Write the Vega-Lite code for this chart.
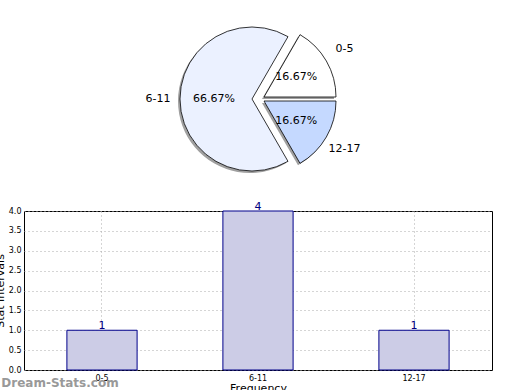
{
  "$schema": "https://vega.github.io/schema/vega-lite/v6.json",
  "padding": {"left": -7, "top": 0, "right": 0, "bottom": 0},
  "config": {
    "font": "DejaVu Sans",
    "view": {"stroke": null},
    "concat": {"spacing": 2}
  },
  "data": {
    "values": [
      {"range": "0-5", "count": 1, "pct": "16.67%"},
      {"range": "6-11", "count": 4, "pct": "66.67%"},
      {"range": "12-17", "count": 1, "pct": "16.67%"}
    ]
  },
  "vconcat": [
    {
      "width": 468,
      "height": 198,
      "transform": [
        {"stack": "count", "groupby": [], "sort": [{"field": "range", "order": "ascending"}], "as": ["start", "end"]}
      ],
      "encoding": {
        "theta": {"field": "start", "type": "quantitative", "scale": {"domain": [0, 6], "range": [0.5236, 6.8068]}},
        "theta2": {"field": "end"},
        "color": {
          "field": "range",
          "type": "nominal",
          "scale": {"domain": ["0-5", "6-11", "12-17"], "range": ["#ffffff", "#ebf1ff", "#c5d9ff"]},
          "legend": null
        }
      },
      "layer": [
        {
          "transform": [{"filter": "datum.range === '6-11'"}],
          "mark": {"type": "arc", "radius": 72, "fill": "#a0a0a0", "stroke": null, "xOffset": -8, "yOffset": 2}
        },
        {
          "transform": [{"filter": "datum.range === '0-5'"}],
          "mark": {"type": "arc", "radius": 72, "fill": "#a0a0a0", "stroke": null, "xOffset": 4, "yOffset": 0}
        },
        {
          "transform": [{"filter": "datum.range === '12-17'"}],
          "mark": {"type": "arc", "radius": 72, "fill": "#a0a0a0", "stroke": null, "xOffset": 4, "yOffset": 4}
        },
        {
          "transform": [{"filter": "datum.range === '6-11'"}],
          "mark": {"type": "arc", "radius": 72, "stroke": "#000000", "strokeWidth": 0.8, "xOffset": -6}
        },
        {
          "transform": [{"filter": "datum.range === '0-5'"}],
          "mark": {"type": "arc", "radius": 72, "stroke": "#000000", "strokeWidth": 0.8, "xOffset": 6, "yOffset": -2}
        },
        {
          "transform": [{"filter": "datum.range === '12-17'"}],
          "mark": {"type": "arc", "radius": 72, "stroke": "#000000", "strokeWidth": 0.8, "xOffset": 6, "yOffset": 2}
        },
        {
          "mark": {"type": "text", "radius": 100, "fontSize": 11, "color": "#000000"},
          "encoding": {
            "theta": {"field": "count", "type": "quantitative", "stack": true, "scale": {"domain": [0, 6], "range": [0.5236, 6.8068]}},
            "theta2": null,
            "detail": {"field": "range", "type": "nominal"},
            "text": {"field": "range", "type": "nominal"},
            "color": {"value": "#000000"}
          }
        },
        {
          "mark": {"type": "text", "radius": 44, "fontSize": 11, "color": "#000000"},
          "encoding": {
            "theta": {"field": "count", "type": "quantitative", "stack": true, "scale": {"domain": [0, 6], "range": [0.5236, 6.8068]}},
            "theta2": null,
            "detail": {"field": "range", "type": "nominal"},
            "text": {"field": "pct", "type": "nominal"},
            "color": {"value": "#000000"}
          }
        }
      ]
    },
    {
      "width": 468,
      "height": 159,
      "view": {"stroke": "#000000", "strokeWidth": 1},
      "title": {
        "text": "Dream-Stats.com",
        "orient": "bottom",
        "anchor": "start",
        "offset": -15,
        "dx": 7,
        "color": "#999999",
        "fontSize": 12,
        "fontWeight": "bold"
      },
      "encoding": {
        "x": {
          "field": "range",
          "type": "nominal",
          "sort": ["0-5", "6-11", "12-17"],
          "scale": {"paddingInner": 0.55, "paddingOuter": 0.275},
          "title": "Frequency",
          "axis": {
            "labelAngle": 0,
            "labelFontSize": 8,
            "ticks": false,
            "domain": false,
            "grid": true,
            "bandPosition": 0.5,
            "gridDash": [1, 3],
            "gridColor": "#aaaaaa",
            "labelPadding": 4,
            "titleFontSize": 11,
            "titleFontWeight": "normal",
            "titlePadding": 0
          }
        },
        "y": {
          "field": "count",
          "type": "quantitative",
          "scale": {"domain": [0, 4]},
          "title": "Stat Intervals",
          "axis": {
            "values": [0, 0.5, 1, 1.5, 2, 2.5, 3, 3.5, 4],
            "format": ".1f",
            "labelFontSize": 8,
            "ticks": false,
            "domain": false,
            "grid": true,
            "gridDash": [1, 3],
            "gridColor": "#aaaaaa",
            "labelPadding": 3,
            "titleFontSize": 11,
            "titleFontWeight": "normal",
            "titlePadding": 3
          }
        }
      },
      "layer": [
        {
          "mark": {"type": "bar", "fill": "#ccccE6", "stroke": "#00008b", "strokeWidth": 1}
        },
        {
          "mark": {"type": "text", "baseline": "bottom", "dy": 1, "fontSize": 11, "color": "#000080"},
          "encoding": {"text": {"field": "count", "type": "quantitative"}}
        }
      ]
    }
  ]
}
